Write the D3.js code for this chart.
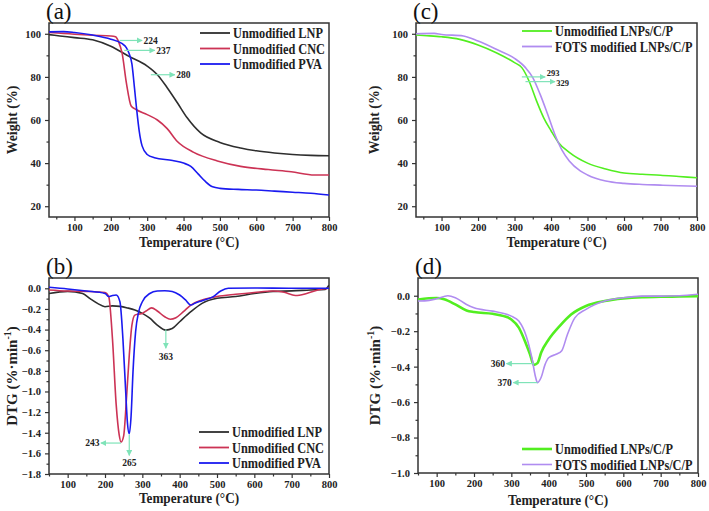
<!DOCTYPE html>
<html><head><meta charset="utf-8">
<script src="https://cdn.jsdelivr.net/npm/d3@7"></script>
<style>
html,body{margin:0;padding:0;background:#fff;}
svg text{font-family:"Liberation Serif","Times New Roman",serif;}
</style></head>
<body><svg id="chart" width="709" height="511"></svg>
<script>
// ---------- DATA ----------
const xTicks = [100,200,300,400,500,600,700,800];
const tgaYTicks = [20,40,60,80,100];
const dtgBYTicks = [0,-0.2,-0.4,-0.6,-0.8,-1.0,-1.2,-1.4,-1.6,-1.8];
const dtgDYTicks = [0,-0.2,-0.4,-0.6,-0.8,-1.0];

// (a) TGA: [temperature, weight %]
const tgaLNP = [[30,99.6],[60,99],[100,98.2],[150,97.2],[200,94.2],[250,89.5],[300,85],[328,81],[355,75],[383,68],[410,61],[447,54],[500,49.6],[557,47],[600,45.7],[650,44.7],[700,44],[750,43.6],[800,43.4]];
const tgaCNC = [[30,100.6],[70,100.2],[100,99.8],[150,99.3],[200,99],[213,98.6],[222,96],[231,91],[243,77],[256,66.5],[268,65],[300,62.5],[328,60],[355,56],[383,50],[428,45],[493,41],[557,38.5],[633,37],[696,36],[760,34.5],[800,34.5]];
const tgaPVA = [[30,100.9],[70,101],[100,100.6],[150,99.4],[200,97.5],[230,95.5],[243,93.5],[250,91],[258,86],[265,75],[271,65],[278,55],[286,48],[300,44],[320,42.5],[370,41.2],[400,40],[420,38.5],[440,35],[460,31.5],[480,29],[500,28.3],[550,27.8],[600,27.5],[650,27],[700,26.5],[750,26],[800,25.2]];
// (c) TGA
const tgaUnmod = [[30,99.4],[60,99.1],[100,98.6],[150,97.4],[200,94.8],[250,91.2],[300,86.6],[320,84.3],[340,78],[360,69],[380,61],[400,55],[420,49.6],[450,45],[500,40],[550,37.3],[600,35.4],[650,34.8],[700,34.4],[750,33.8],[800,33.2]];
const tgaFOTS = [[30,100],[80,100.2],[100,99.7],[160,99],[200,96.6],[250,92.8],[300,88.6],[330,84.3],[350,79.7],[370,72],[390,63],[410,53.5],[430,46],[450,41],[480,36.4],[500,34.5],[550,31.7],[600,30.6],[650,30.1],[700,29.8],[750,29.5],[800,29.3]];
// (b) DTG: [temperature, %/min]
const dtgLNP = [[50,-0.05],[100,-0.03],[140,-0.05],[160,-0.1],[180,-0.146],[200,-0.178],[220,-0.17],[240,-0.175],[260,-0.19],[280,-0.21],[300,-0.243],[320,-0.29],[340,-0.356],[363,-0.405],[380,-0.39],[400,-0.324],[430,-0.227],[460,-0.146],[500,-0.097],[550,-0.08],[600,-0.05],[650,-0.03],[700,-0.025],[750,-0.016],[790,-0.01],[800,0.03]];
const dtgCNC = [[50,-0.016],[100,-0.026],[150,-0.03],[200,-0.04],[210,-0.08],[220,-0.49],[230,-1.13],[238,-1.42],[243,-1.49],[250,-1.43],[258,-1.04],[265,-0.65],[272,-0.36],[280,-0.26],[290,-0.25],[300,-0.243],[310,-0.22],[325,-0.19],[340,-0.22],[360,-0.276],[375,-0.3],[390,-0.285],[410,-0.227],[430,-0.162],[460,-0.113],[500,-0.08],[550,-0.058],[600,-0.04],[650,-0.026],[680,-0.039],[710,-0.07],[740,-0.05],[770,-0.016],[800,0]];
const dtgPVA = [[50,0.01],[100,-0.006],[150,-0.026],[200,-0.05],[210,-0.08],[220,-0.07],[230,-0.065],[240,-0.13],[248,-0.49],[255,-0.97],[260,-1.3],[265,-1.41],[270,-1.23],[275,-0.81],[282,-0.42],[290,-0.23],[300,-0.13],[320,-0.05],[340,-0.026],[360,-0.023],[380,-0.03],[400,-0.065],[415,-0.11],[430,-0.162],[440,-0.146],[460,-0.12],[490,-0.08],[510,-0.026],[530,0],[600,0.003],[700,0],[800,0]];
// (d) DTG
const dtgUnmod = [[50,-0.021],[100,-0.013],[120,-0.02],[150,-0.049],[180,-0.083],[200,-0.092],[250,-0.102],[280,-0.115],[300,-0.134],[320,-0.18],[340,-0.275],[350,-0.33],[360,-0.39],[370,-0.38],[380,-0.32],[400,-0.247],[430,-0.17],[460,-0.106],[500,-0.058],[550,-0.03],[600,-0.015],[650,-0.008],[700,-0.006],[750,-0.004],[800,-0.002]];
const dtgFOTS = [[50,-0.03],[80,-0.026],[100,-0.017],[130,0],[150,-0.011],[180,-0.049],[200,-0.068],[250,-0.087],[280,-0.1],[300,-0.115],[320,-0.143],[340,-0.228],[355,-0.35],[365,-0.46],[370,-0.49],[380,-0.46],[390,-0.39],[400,-0.35],[420,-0.33],[435,-0.31],[450,-0.22],[470,-0.125],[500,-0.077],[550,-0.03],[600,-0.011],[650,-0.002],[700,-0.002],[750,0],[800,0.008]];

// annotations: [label, x1, y1, x2, y2, labelX, labelY, anchor]
const annA = [["224",224,96.9,286,96.9,290,96.9,"start"],["237",237,92.3,321,92.3,325,92.3,"start"],["280",310,81,376,81,380,81,"start"]];
const annC = [["293",320,80,384,80,388,81.6,"start"],["329",330,77.8,411,77.8,414,77.2,"start"]];
const annB = [["363",363,-0.40,363,-0.58,363,-0.665,"middle"],["243",243,-1.5,189,-1.5,185,-1.5,"end"],["265",265,-1.42,265,-1.62,265,-1.69,"middle"]];
const annD = [["360",360,-0.383,287,-0.383,283,-0.383,"end"],["370",370,-0.49,305,-0.49,301,-0.49,"end"]];

const colLNP="#2e2e2e", colCNC="#cc3355", colPVA="#1a1af0", colGreen="#52ee20", colPurple="#b08cf0", colAnn="#7fe3b8";
const SX = 0.88; // horizontal condensing of the serif text

// ---------- DRAW ----------
const svg = d3.select("#chart");
svg.append("defs").append("marker").attr("id","arr").attr("viewBox","0 0 10 10")
  .attr("refX",9).attr("refY",5).attr("markerWidth",5).attr("markerHeight",5).attr("orient","auto")
  .append("path").attr("d","M0,0L10,5L0,10z").attr("fill",colAnn);

function sText(g, x, y, fs, anchor){
  return g.append("text").attr("transform",`translate(${x},${y}) scale(${SX},1)`)
    .attr("text-anchor",anchor).attr("font-size",fs).attr("font-weight","bold").attr("fill","#222");
}

function panel(cfg){
  const g = svg.append("g");
  const x = d3.scaleLinear().domain(cfg.xDom).range([cfg.l,cfg.r]);
  const y = d3.scaleLinear().domain(cfg.yDom).range([cfg.b,cfg.t]);
  const xMinor = d3.range(50,801,50).filter(v=>v>=cfg.xDom[0]&&v%100!==0);
  g.append("g").attr("transform",`translate(0,${cfg.b})`)
    .call(d3.axisBottom(x).tickValues(xTicks).tickSize(4).tickPadding(3).tickFormat(d3.format("d")));
  g.append("g").attr("transform",`translate(0,${cfg.b})`)
    .call(d3.axisBottom(x).tickValues(xMinor).tickSize(2.5).tickFormat(""));
  g.append("g").attr("transform",`translate(${cfg.l},0)`)
    .call(d3.axisLeft(y).tickValues(cfg.yTicks).tickSize(4).tickPadding(4).tickFormat(cfg.yFmt));
  g.append("g").attr("transform",`translate(${cfg.l},0)`)
    .call(d3.axisLeft(y).tickValues(cfg.yMinor).tickSize(2.5).tickFormat(""));
  g.selectAll(".domain").remove();
  g.selectAll(".tick line").attr("stroke","#333").attr("stroke-width",1.2);
  g.selectAll(".tick text").attr("font-size",10.5).attr("font-weight","bold").attr("fill","#222")
    .style("font-family","'Liberation Serif',serif");
  // frame
  g.append("rect").attr("x",cfg.l).attr("y",cfg.t).attr("width",cfg.r-cfg.l).attr("height",cfg.b-cfg.t)
    .attr("fill","none").attr("stroke","#333").attr("stroke-width",1.5);
  // lines
  const clip = "clip"+cfg.id;
  g.append("clipPath").attr("id",clip).append("rect").attr("x",cfg.l).attr("y",cfg.t).attr("width",cfg.r-cfg.l).attr("height",cfg.b-cfg.t);
  const line = d3.line().x(d=>x(d[0])).y(d=>y(d[1])).curve(d3.curveMonotoneX);
  cfg.series.forEach(s=>{
    g.append("path").datum(s.data).attr("d",line).attr("fill","none")
      .attr("stroke",s.color).attr("stroke-width",s.w||1.6).attr("clip-path",`url(#${clip})`);
  });
  // annotations
  cfg.ann.forEach(a=>{
    g.append("line").attr("x1",x(a[1])).attr("y1",y(a[2])).attr("x2",x(a[3])).attr("y2",y(a[4]))
      .attr("stroke",colAnn).attr("stroke-width",1.2).attr("marker-end","url(#arr)");
    g.append("text").attr("x",x(a[5])).attr("y",y(a[6])).attr("dy","0.35em").attr("text-anchor",a[7])
      .attr("font-size",cfg.annFs||9.5).attr("font-weight","bold").attr("fill","#222").text(a[0]);
  });
  // legend
  cfg.series.forEach((s,i)=>{
    const ly = cfg.legY + i*cfg.legDy;
    g.append("line").attr("x1",cfg.legX).attr("x2",cfg.legX+cfg.legLen).attr("y1",ly).attr("y2",ly)
      .attr("stroke",s.color).attr("stroke-width",s.w||1.8);
    sText(g, cfg.legX+cfg.legLen+3, ly+5, 14, "start").text(s.name);
  });
  // axis titles
  sText(g, (cfg.l+cfg.r)/2, cfg.b+cfg.xTitleDy, 15, "middle").text("Temperature (°C)");
  const yt = g.append("text").attr("transform",`translate(${cfg.yTitleX},${(cfg.t+cfg.b)/2}) rotate(-90) scale(${cfg.dtg?1:0.92},1)`)
    .attr("text-anchor","middle").attr("font-size",15).attr("font-weight","bold").attr("fill","#222");
  if(cfg.dtg){
    yt.append("tspan").text("DTG (%·min");
    yt.append("tspan").attr("font-size",10).attr("dy","-6").text("-1");
    yt.append("tspan").attr("dy","6").text(")");
  } else yt.text("Weight (%)");
  // panel letter
  g.append("text").attr("x",cfg.letX).attr("y",cfg.letY).attr("font-size",23).attr("fill","#111").text(cfg.letter);
}

const fmt1 = d=> d===0 ? "0.0" : d3.format(".1f")(d);
panel({id:"a",l:49,r:329,t:23,b:217,xDom:[30,800],yDom:[15,105],yTicks:tgaYTicks,yMinor:[30,50,70,90],yFmt:d3.format("d"),
  series:[{name:"Unmodified LNP",color:colLNP,data:tgaLNP},{name:"Unmodified CNC",color:colCNC,data:tgaCNC},{name:"Unmodified PVA",color:colPVA,data:tgaPVA}],
  ann:annA,legX:200,legLen:30,legY:33,legDy:15.5,yTitleX:17,xTitleDy:30,letter:"(a)",letX:46,letY:19});
panel({id:"c",l:416,r:697,t:23,b:217,xDom:[30,800],yDom:[15,105],yTicks:tgaYTicks,yMinor:[30,50,70,90],yFmt:d3.format("d"),
  series:[{name:"Unmodified LNPs/C/P",color:colGreen,data:tgaUnmod},{name:"FOTS modified LNPs/C/P",color:colPurple,data:tgaFOTS}],
  ann:annC,annFs:8.5,legX:522,legLen:30,legY:31,legDy:15.5,yTitleX:379,xTitleDy:30,letter:"(c)",letX:413,letY:19});
panel({id:"b",l:49,r:329,t:278,b:474,xDom:[50,800],yDom:[-1.8,0.1],yTicks:dtgBYTicks,yMinor:[-0.1,-0.3,-0.5,-0.7,-0.9,-1.1,-1.3,-1.5,-1.7],yFmt:fmt1,dtg:true,
  series:[{name:"Unmodified LNP",color:colLNP,data:dtgLNP},{name:"Unmodified CNC",color:colCNC,data:dtgCNC},{name:"Unmodified PVA",color:colPVA,data:dtgPVA}],
  ann:annB,legX:199,legLen:30,legY:432,legDy:15.5,yTitleX:17,xTitleDy:29,letter:"(b)",letX:46,letY:274});
panel({id:"d",l:418,r:698,t:278,b:473,xDom:[50,800],yDom:[-1.0,0.1],yTicks:dtgDYTicks,yMinor:[-0.1,-0.3,-0.5,-0.7,-0.9],yFmt:fmt1,dtg:true,
  series:[{name:"Unmodified LNPs/C/P",color:colGreen,data:dtgUnmod,w:2.6},{name:"FOTS modified LNPs/C/P",color:colPurple,data:dtgFOTS,w:1.6}],
  ann:annD,legX:522,legLen:30,legY:449,legDy:15.5,yTitleX:380,xTitleDy:32,letter:"(d)",letX:415,letY:274});
</script></body></html>
